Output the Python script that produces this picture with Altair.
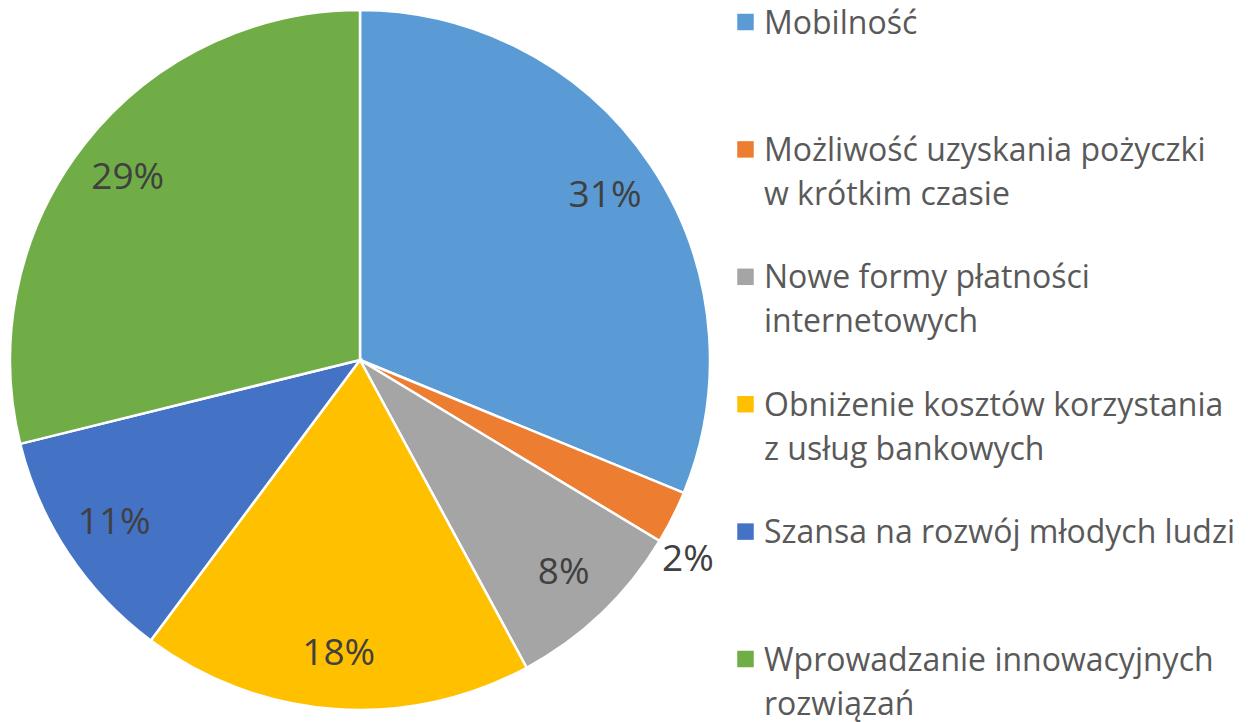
import altair as alt
import pandas as pd

categories = [
    "Mobilność",
    "Możliwość uzyskania pożyczki w krótkim czasie",
    "Nowe formy płatności internetowych",
    "Obniżenie kosztów korzystania z usług bankowych",
    "Szansa na rozwój młodych ludzi",
    "Wprowadzanie innowacyjnych rozwiązań",
]
legend_labels = [
    "Mobilność",
    "Możliwość uzyskania pożyczki\nw krótkim czasie",
    "Nowe formy płatności\ninternetowych",
    "Obniżenie kosztów korzystania\nz usług bankowych",
    "Szansa na rozwój młodych ludzi",
    "Wprowadzanie innowacyjnych\nrozwiązań",
]
values = [31.2, 2.45, 8.45, 18.1, 10.95, 28.85]
colors = ["#5B9BD5", "#ED7D31", "#A5A5A5", "#FFC000", "#4472C4", "#70AD47"]

df = pd.DataFrame({
    "category": categories,
    "legend": legend_labels,
    "value": values,
    "order": list(range(len(categories))),
})

color_scale = alt.Scale(domain=categories, range=colors)
FONT = "Open Sans"
CX, CY = 352, 352

arcs = alt.Chart(df).mark_arc(outerRadius=350, stroke="white", strokeWidth=2.5).encode(
    theta=alt.Theta("value:Q", stack=True),
    order=alt.Order("order:Q"),
    color=alt.Color("category:N", scale=color_scale, legend=None),
    x=alt.value(CX),
    y=alt.value(CY),
)

inner_labels = alt.Chart(df).transform_calculate(
    lbl="datum.value >= 5 ? format(datum.value / 100, '.0%') : ''"
).mark_text(radius=295, font=FONT, fontSize=37, color="#404040").encode(
    theta=alt.Theta("value:Q", stack=True),
    order=alt.Order("order:Q"),
    detail="category:N",
    text="lbl:N",
    x=alt.value(CX),
    y=alt.value(CY),
)

outer_labels = alt.Chart(df).transform_calculate(
    lbl="datum.value < 5 ? format(datum.value / 100, '.0%') : ''"
).mark_text(radius=384, dx=-15, dy=27, font=FONT, fontSize=37, color="#404040").encode(
    theta=alt.Theta("value:Q", stack=True),
    order=alt.Order("order:Q"),
    detail="category:N",
    text="lbl:N",
    x=alt.value(CX),
    y=alt.value(CY),
)

legend_y = alt.Y(
    "category:N",
    scale=alt.Scale(type="point", domain=categories, range=[14, 651], padding=0),
    axis=None,
)
legend_sq = alt.Chart(df).mark_square(size=272, opacity=1).encode(
    y=legend_y,
    x=alt.value(737.5),
    color=alt.Color("category:N", scale=color_scale, legend=None),
)
legend_txt = alt.Chart(df).mark_text(
    align="left", baseline="alphabetic", dy=11.5, font=FONT, fontSize=32,
    lineBreak="\n", lineHeight=44, color="#595959",
).encode(
    y=legend_y,
    x=alt.value(756),
    text="legend:N",
)

chart = alt.layer(arcs, inner_labels, outer_labels, legend_sq, legend_txt).properties(
    width=1232, height=714, padding=0, background="white",
    autosize=alt.AutoSizeParams(type="none"),
).configure_view(stroke=None)

chart.save("out.html", embed_options={"renderer": "svg", "actions": False})
